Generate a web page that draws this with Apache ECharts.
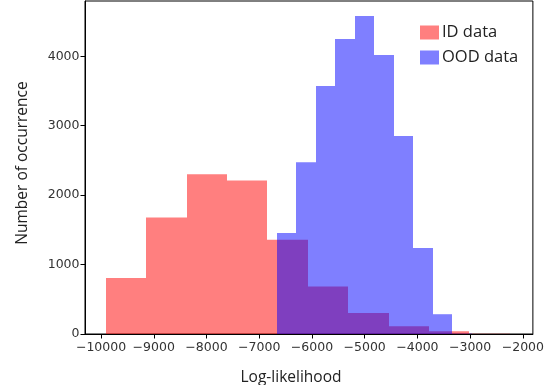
<!DOCTYPE html>
<html>
<head>
<meta charset="utf-8">
<script src="https://cdn.jsdelivr.net/npm/echarts@6/dist/echarts.min.js"></script>
<style>
  html, body { margin: 0; padding: 0; background: #fff; }
  #chart { width: 547px; height: 385px; }
</style>
</head>
<body>
<div id="chart"></div>
<script>
// histogram bin edges and counts
const idEdges = [-9911, -9144, -8378, -7611, -6845, -6078, -5312, -4545, -3779, -3012, -2246];
const idCounts = [806, 1678, 2302, 2210, 1357, 685, 302, 110, 40, 5];

const oodEdges = [-6666, -6296, -5926, -5556, -5186, -4816, -4446, -4076, -3706, -3336, -2966];
const oodCounts = [1453, 2475, 3573, 4249, 4580, 4019, 2853, 1237, 285, 5];

const xTicks = [-10000, -9000, -8000, -7000, -6000, -5000, -4000, -3000, -2000];
const yTicks = [0, 1000, 2000, 3000, 4000];

const RED = 'rgba(255,0,0,0.5)';
const BLUE = 'rgba(0,0,255,0.5)';

const toBins = (edges, counts) =>
  counts.map((c, i) => [edges[i], edges[i + 1], c]);

// snap to whole pixels so neighbouring bins don't show seams
const renderBar = (params, api) => {
  const p0 = api.coord([api.value(0), api.value(2)]);
  const p1 = api.coord([api.value(1), 0]);
  const x0 = Math.round(p0[0]);
  const x1 = Math.round(p1[0]);
  return {
    type: 'rect',
    shape: { x: x0, y: p0[1], width: x1 - x0, height: p1[1] - p0[1] },
    style: { fill: api.visual('color') }
  };
};

const tickFont = { fontFamily: 'DejaVu Sans', fontSize: 12.5, color: '#333' };

const chart = echarts.init(document.getElementById('chart'));

const option = {
  animation: false,
  grid: {
    left: 85, right: 14, top: 1, bottom: 51,
    show: true, borderColor: '#000', borderWidth: 1
  },
  legend: {
    orient: 'vertical',
    left: 420, top: 24,
    padding: 0,
    itemWidth: 19, itemHeight: 14, itemGap: 8,
    icon: 'rect',
    textStyle: { fontFamily: 'Open Sans', fontSize: 16.5, color: '#222', padding: [0, 0, 0, -2] },
    data: [
      { name: 'ID data', itemStyle: { color: RED } },
      { name: 'OOD data', itemStyle: { color: BLUE } }
    ]
  },
  xAxis: {
    type: 'value',
    min: -10304, max: -1810,
    splitLine: { show: false },
    axisLine: { lineStyle: { color: '#000' } },
    axisTick: { length: 4.5, customValues: xTicks, lineStyle: { color: '#000' } },
    axisLabel: {
      ...tickFont,
      margin: 7,
      customValues: xTicks,
      formatter: v => (v < 0 ? '\u2212' + Math.abs(v) : String(v))
    }
  },
  yAxis: {
    type: 'value',
    min: 0, max: 4796,
    splitLine: { show: false },
    axisLine: { show: true, lineStyle: { color: '#000' } },
    axisTick: { show: true, length: 4.5, customValues: yTicks, lineStyle: { color: '#000' } },
    axisLabel: {
      ...tickFont,
      margin: 5.5,
      customValues: yTicks,
      formatter: v => String(v)
    }
  },
  graphic: [
    {
      type: 'text',
      x: 291, y: 378,
      style: {
        text: 'Log-likelihood',
        fontFamily: 'Open Sans', fontSize: 15.5, fill: '#222',
        textAlign: 'center', textVerticalAlign: 'middle'
      }
    },
    {
      type: 'text',
      x: 22.5, y: 163,
      rotation: Math.PI / 2,
      style: {
        text: 'Number of occurrence',
        fontFamily: 'Open Sans', fontSize: 15.5, fill: '#222',
        textAlign: 'center', textVerticalAlign: 'middle'
      }
    }
  ],
  series: [
    {
      name: 'ID data',
      type: 'custom',
      renderItem: renderBar,
      itemStyle: { color: RED },
      encode: { x: [0, 1], y: 2 },
      data: toBins(idEdges, idCounts)
    },
    {
      name: 'OOD data',
      type: 'custom',
      renderItem: renderBar,
      itemStyle: { color: BLUE },
      encode: { x: [0, 1], y: 2 },
      data: toBins(oodEdges, oodCounts)
    }
  ]
};

chart.setOption(option);
</script>
</body>
</html>
